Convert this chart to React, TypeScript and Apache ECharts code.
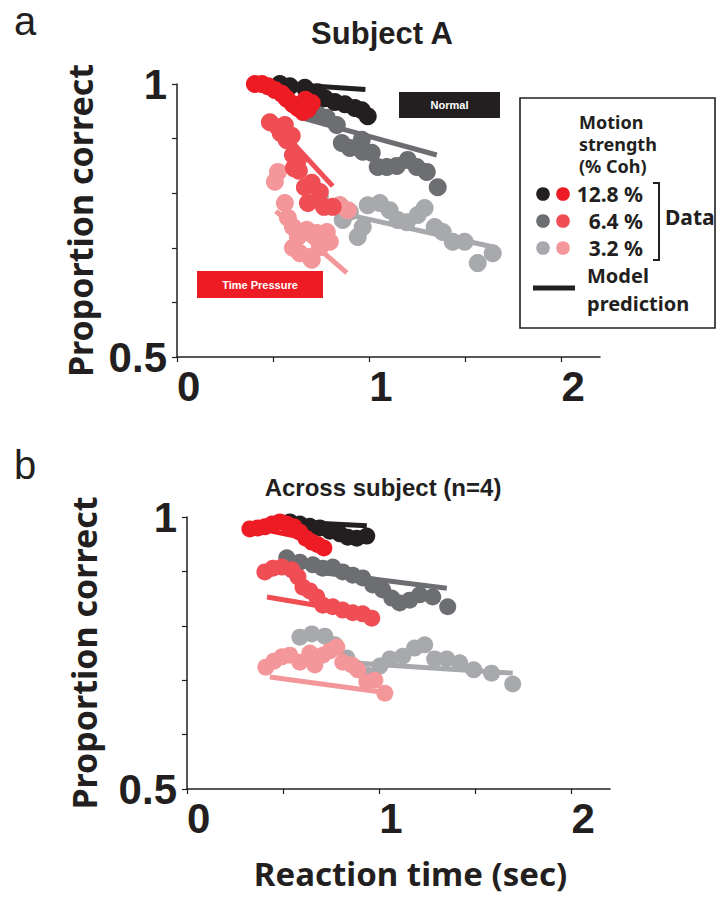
import React, { useEffect, useRef } from "react";
import * as echarts from "echarts";

// ---------- Data (x = reaction time in sec, y = proportion correct) ----------
// Panel a: Subject A
const aNormal128: number[][] = [
  [0.535, 1.0], [0.587, 0.996], [0.665, 0.993], [0.732, 0.985], [0.769, 0.974],
  [0.821, 0.967], [0.873, 0.963], [0.925, 0.956], [0.961, 0.952], [0.992, 0.941],
];
const aNormal64: number[][] = [
  [0.727, 0.947], [0.779, 0.938], [0.831, 0.925], [0.857, 0.892], [0.899, 0.883],
  [0.961, 0.898], [0.966, 0.876], [1.013, 0.874], [1.044, 0.848], [1.091, 0.848],
  [1.143, 0.85], [1.2, 0.861], [1.247, 0.848], [1.299, 0.839], [1.356, 0.811],
];
const aNormal32: number[][] = [
  [0.743, 0.793], [0.847, 0.778], [0.862, 0.751], [0.899, 0.766], [0.94, 0.72],
  [0.966, 0.738], [0.992, 0.778], [1.055, 0.782], [1.106, 0.769], [1.148, 0.751],
  [1.195, 0.747], [1.252, 0.76], [1.288, 0.773], [1.34, 0.738], [1.382, 0.729],
  [1.434, 0.711], [1.496, 0.711], [1.564, 0.672], [1.642, 0.69],
];
const aPressure128: number[][] = [
  [0.405, 1.0], [0.442, 1.0], [0.473, 0.996], [0.509, 0.989], [0.545, 0.982],
  [0.571, 0.973], [0.603, 0.963], [0.629, 0.956], [0.655, 0.949], [0.681, 0.954],
  [0.701, 0.965], [0.668, 0.971],
];
const aPressure64: number[][] = [
  [0.483, 0.93], [0.525, 0.921], [0.561, 0.925], [0.54, 0.91], [0.571, 0.897],
  [0.597, 0.905], [0.603, 0.87], [0.629, 0.861], [0.608, 0.846], [0.634, 0.841],
  [0.665, 0.811], [0.701, 0.819], [0.681, 0.782], [0.743, 0.802], [0.764, 0.775],
  [0.81, 0.775],
];
const aPressure32: number[][] = [
  [0.525, 0.839], [0.509, 0.821], [0.561, 0.782], [0.577, 0.755], [0.603, 0.738],
  [0.629, 0.72], [0.603, 0.7], [0.639, 0.69], [0.691, 0.683], [0.675, 0.733],
  [0.727, 0.727], [0.779, 0.729], [0.795, 0.711], [0.743, 0.701], [0.701, 0.678],
  [0.847, 0.778], [0.888, 0.769],
];
const aModelNormal128: number[][] = [[0.55, 1.0], [0.98, 0.99]];
const aModelNormal64: number[][] = [[0.649, 0.938], [1.351, 0.87]];
const aModelNormal32: number[][] = [[0.847, 0.764], [1.662, 0.7]];
const aModelPressure128: number[][] = [[0.45, 0.995], [0.68, 0.962]];
const aModelPressure64: number[][] = [[0.603, 0.892], [0.81, 0.813]];
const aModelPressure32: number[][] = [[0.514, 0.767], [0.883, 0.654]];

// Panel b: Across subject (n=4)
const bNormal128: number[][] = [
  [0.535, 0.991], [0.587, 0.987], [0.639, 0.983], [0.691, 0.98], [0.743, 0.974],
  [0.795, 0.969], [0.836, 0.963], [0.883, 0.961], [0.935, 0.965],
];
const bNormal64: number[][] = [
  [0.519, 0.925], [0.587, 0.917], [0.655, 0.912], [0.706, 0.906], [0.758, 0.908],
  [0.81, 0.899], [0.862, 0.893], [0.914, 0.888], [0.966, 0.875], [1.018, 0.866],
  [1.065, 0.851], [1.106, 0.842], [1.158, 0.847], [1.21, 0.857], [1.278, 0.853],
  [1.356, 0.835],
];
const bNormal32: number[][] = [
  [0.587, 0.779], [0.649, 0.785], [0.717, 0.781], [0.769, 0.765], [0.831, 0.741],
  [0.883, 0.722], [0.935, 0.71], [1.003, 0.726], [1.055, 0.739], [1.122, 0.744],
  [1.184, 0.759], [1.236, 0.765], [1.288, 0.739], [1.351, 0.739], [1.418, 0.732],
  [1.491, 0.719], [1.584, 0.713], [1.694, 0.693],
];
const bPressure128: number[][] = [
  [0.327, 0.978], [0.369, 0.98], [0.405, 0.982], [0.442, 0.987], [0.483, 0.991],
  [0.519, 0.987], [0.556, 0.982], [0.587, 0.972], [0.618, 0.961], [0.649, 0.954],
  [0.681, 0.949], [0.712, 0.943],
];
const bPressure64: number[][] = [
  [0.405, 0.899], [0.447, 0.906], [0.494, 0.908], [0.545, 0.903], [0.577, 0.89],
  [0.603, 0.871], [0.639, 0.864], [0.675, 0.853], [0.706, 0.838], [0.758, 0.835],
  [0.81, 0.829], [0.862, 0.824], [0.914, 0.822], [0.961, 0.814],
];
const bPressure32: number[][] = [
  [0.41, 0.724], [0.452, 0.735], [0.494, 0.743], [0.535, 0.746], [0.587, 0.733],
  [0.639, 0.75], [0.665, 0.728], [0.706, 0.746], [0.743, 0.754], [0.779, 0.761],
  [0.81, 0.733], [0.857, 0.728], [0.888, 0.719], [0.935, 0.697], [0.977, 0.7],
  [1.029, 0.676],
];
const bModelNormal128: number[][] = [[0.551, 0.991], [0.935, 0.984]];
const bModelNormal64: number[][] = [[0.675, 0.899], [1.351, 0.869]];
const bModelNormal32: number[][] = [[0.85, 0.732], [1.694, 0.713]];
const bModelPressure128: number[][] = [[0.33, 0.982], [0.7, 0.955]];
const bModelPressure64: number[][] = [[0.416, 0.853], [0.8, 0.83]];
const bModelPressure32: number[][] = [[0.431, 0.706], [1.018, 0.678]];

// Axis ticks / labels
const xTickValues = [0, 0.5, 1, 1.5, 2];
const xLabelValues = [0, 1, 2];
const yTickValues = [0.5, 0.6, 0.7, 0.8, 0.9, 1];
const yLabelValues = [0.5, 1];

const C_BLACK = "#231f20";
const C_DGRAY = "#6d6e71";
const C_LGRAY = "#a7a9ac";
const C_RED = "#ed1c24";
const C_MRED = "#ef4e55";
const C_LRED = "#f4979a";

const TICK_FONT = "'Liberation Sans', Arial, sans-serif";
const MYRIAD = "'Noto Sans', 'Open Sans', sans-serif";

function makeX(gridIndex: number, withName: boolean) {
  return {
    type: "value",
    gridIndex,
    min: 0,
    max: 2.2,
    splitLine: { show: false },
    axisLine: { show: true, lineStyle: { color: C_BLACK, width: 1.5 } },
    axisTick: { show: true, customValues: xTickValues, length: 5, lineStyle: { color: C_BLACK, width: 1.2 } },
    axisLabel: {
      customValues: xLabelValues,
      formatter: (v: number) => String(Math.round(v)),
      align: "left",
      margin: 8,
      fontSize: 42,
      fontWeight: "bold",
      fontFamily: TICK_FONT,
      color: C_BLACK,
    },
    name: withName ? "Reaction time (sec)" : "",
    nameLocation: "middle",
    nameGap: 68,
    nameTextStyle: {
      fontSize: 33,
      fontWeight: "bold",
      fontFamily: MYRIAD,
      color: C_BLACK,
      padding: [0, 0, 0, 24],
    },
  };
}

function makeY(gridIndex: number, nameGap: number) {
  return {
    type: "value",
    gridIndex,
    min: 0.5,
    max: 1,
    splitLine: { show: false },
    axisLine: { show: true, lineStyle: { color: C_BLACK, width: 1.5 } },
    axisTick: { show: true, customValues: yTickValues, length: 5, lineStyle: { color: C_BLACK, width: 1.2 } },
    axisLabel: {
      customValues: yLabelValues,
      formatter: (v: number) => (Math.abs(v - 1) < 1e-6 ? "1" : "0.5"),
      margin: 10,
      fontSize: 42,
      fontWeight: "bold",
      fontFamily: TICK_FONT,
      color: C_BLACK,
    },
    name: "Proportion correct",
    nameLocation: "middle",
    nameGap,
    nameRotate: 90,
    nameTextStyle: {
      fontSize: 34,
      fontWeight: "bold",
      fontFamily: MYRIAD,
      color: C_BLACK,
    },
  };
}

function lineSeries(data: number[][], color: string, idx: number, z: number) {
  return {
    type: "line",
    data,
    xAxisIndex: idx,
    yAxisIndex: idx,
    showSymbol: false,
    symbol: "none",
    silent: true,
    z,
    lineStyle: { color, width: 5, cap: "butt" },
  };
}

function scatterSeries(data: number[][], color: string, idx: number, z: number, size: number) {
  return {
    type: "scatter",
    data,
    xAxisIndex: idx,
    yAxisIndex: idx,
    symbol: "circle",
    symbolSize: size,
    z,
    itemStyle: { color, opacity: 1 },
  };
}

function panelSeries(
  idx: number,
  size: number,
  n128: number[][], n64: number[][], n32: number[][],
  p128: number[][], p64: number[][], p32: number[][],
  mn128: number[][], mn64: number[][], mn32: number[][],
  mp128: number[][], mp64: number[][], mp32: number[][]
) {
  return [
    lineSeries(mn32, C_LGRAY, idx, 2),
    scatterSeries(n32, C_LGRAY, idx, 3, size),
    lineSeries(mn64, C_DGRAY, idx, 2),
    scatterSeries(n64, C_DGRAY, idx, 3, size),
    lineSeries(mn128, C_BLACK, idx, 2),
    scatterSeries(n128, C_BLACK, idx, 3, size),
    lineSeries(mp32, C_LRED, idx, 4),
    scatterSeries(p32, C_LRED, idx, 5, size),
    lineSeries(mp64, C_MRED, idx, 4),
    scatterSeries(p64, C_MRED, idx, 5, size),
    lineSeries(mp128, C_RED, idx, 4),
    scatterSeries(p128, C_RED, idx, 5, size),
  ];
}

function txt(x: number, y: number, text: string, font: string, opts: any = {}) {
  return {
    type: "text",
    x,
    y,
    z: 50,
    style: {
      text,
      font,
      fill: opts.fill || C_BLACK,
      textAlign: opts.align || "left",
      textVerticalAlign: "middle",
    },
  };
}

export default function App() {
  const ref = useRef<HTMLDivElement>(null);

  useEffect(() => {
    if (!ref.current) return;
    const chart = echarts.init(ref.current, null, { renderer: "svg" });
    const lf = `bold 18px ${MYRIAD}`;
    const lfBig = `bold 21px ${MYRIAD}`;
    const option: any = {
      animation: false,
      backgroundColor: "#ffffff",
      grid: [
        { left: 177, top: 84, width: 423, height: 273 },
        { left: 187, top: 517, width: 423, height: 272 },
      ],
      xAxis: [makeX(0, false), makeX(1, true)],
      yAxis: [makeY(0, 80), makeY(1, 86)],
      series: [
        ...panelSeries(
          0, 18,
          aNormal128, aNormal64, aNormal32, aPressure128, aPressure64, aPressure32,
          aModelNormal128, aModelNormal64, aModelNormal32,
          aModelPressure128, aModelPressure64, aModelPressure32
        ),
        ...panelSeries(
          1, 17,
          bNormal128, bNormal64, bNormal32, bPressure128, bPressure64, bPressure32,
          bModelNormal128, bModelNormal64, bModelNormal32,
          bModelPressure128, bModelPressure64, bModelPressure32
        ),
      ],
      graphic: [
        // panel letters
        txt(14, 21, "a", `40px ${TICK_FONT}`),
        txt(14, 465, "b", `40px ${TICK_FONT}`),
        // titles
        txt(382, 33, "Subject A", `bold 31px ${TICK_FONT}`, { align: "center" }),
        txt(383, 487, "Across subject (n=4)", `bold 24px ${TICK_FONT}`, { align: "center" }),
        // Normal / Time Pressure tags
        { type: "rect", shape: { x: 399, y: 92, width: 101, height: 26 }, style: { fill: C_BLACK }, z: 40 },
        txt(449.5, 105, "Normal", `bold 11px ${TICK_FONT}`, { align: "center", fill: "#ffffff" }),
        { type: "rect", shape: { x: 197, y: 271, width: 126, height: 27 }, style: { fill: C_RED }, z: 40 },
        txt(260, 284.5, "Time Pressure", `bold 11px ${TICK_FONT}`, { align: "center", fill: "#ffffff" }),
        // legend box
        {
          type: "rect",
          shape: { x: 520, y: 98, width: 195, height: 230 },
          style: { fill: "#ffffff", stroke: C_BLACK, lineWidth: 1.6 },
          z: 40,
        },
        txt(579, 122, "Motion", lf),
        txt(579, 144, "strength", lf),
        txt(579, 166, "(% Coh)", lf),
        { type: "circle", shape: { cx: 543, cy: 194, r: 6.8 }, style: { fill: C_BLACK }, z: 45 },
        { type: "circle", shape: { cx: 563, cy: 194, r: 6.8 }, style: { fill: C_RED }, z: 45 },
        { type: "circle", shape: { cx: 543, cy: 221, r: 6.8 }, style: { fill: C_DGRAY }, z: 45 },
        { type: "circle", shape: { cx: 563, cy: 221, r: 6.8 }, style: { fill: C_MRED }, z: 45 },
        { type: "circle", shape: { cx: 543, cy: 248, r: 6.8 }, style: { fill: C_LGRAY }, z: 45 },
        { type: "circle", shape: { cx: 563, cy: 248, r: 6.8 }, style: { fill: C_LRED }, z: 45 },
        txt(643, 194, "12.8 %", lfBig, { align: "right" }),
        txt(643, 221, "6.4 %", lfBig, { align: "right" }),
        txt(643, 248, "3.2 %", lfBig, { align: "right" }),
        {
          type: "polyline",
          shape: { points: [[653, 183], [659, 183], [659, 260], [653, 260]] },
          style: { stroke: C_BLACK, lineWidth: 2, fill: null },
          z: 45,
        },
        txt(665, 217, "Data", lfBig),
        {
          type: "line",
          shape: { x1: 533, y1: 288, x2: 575, y2: 288 },
          style: { stroke: C_BLACK, lineWidth: 5 },
          z: 45,
        },
        txt(587, 275, "Model", `bold 20px ${MYRIAD}`),
        txt(587, 303, "prediction", `bold 20px ${MYRIAD}`),
      ],
    };
    chart.setOption(option);
    return () => chart.dispose();
  }, []);

  return (
    <div
      ref={ref}
      style={{ position: "absolute", left: 0, top: 0, width: 717, height: 901, background: "#fff" }}
    />
  );
}
